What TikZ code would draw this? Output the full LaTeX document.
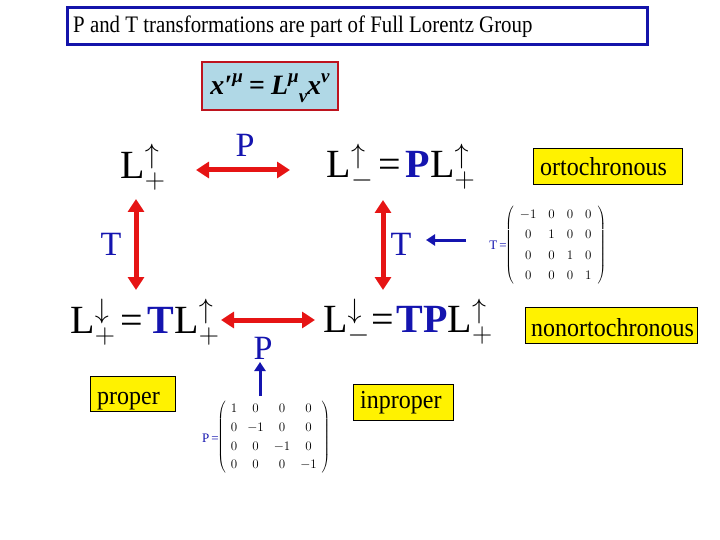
\RequirePackage{fix-cm}
\documentclass[tikz,border=0pt]{standalone}
\usepackage{graphicx}
\usepackage{fontspec}
\setmainfont{Liberation Serif}
\usetikzlibrary{arrows.meta}
\definecolor{tblue}{RGB}{20,20,175}
\definecolor{tred}{RGB}{230,20,20}
\definecolor{lightcyan}{RGB}{176,216,230}
\definecolor{darkred}{RGB}{190,20,30}
\definecolor{ttl}{RGB}{20,20,170}
\tikzset{
  redarrow/.style={draw=tred, line width=5pt, {Triangle[length=13pt,width=16pt]}-{Triangle[length=13pt,width=16pt]}},
  bluearrow/.style={draw=tblue, line width=3pt, -{Triangle[length=9pt,width=11pt]}},
  ybox/.style={draw=black, line width=0.8pt, fill=yellow, inner sep=0pt},
  ytext/.style={anchor=base west, inner sep=0pt, font=\fontsize{24}{28}\selectfont},
  big/.style={font=\fontsize{40}{46}\selectfont, inner sep=0pt},
  lbl/.style={text=tblue, font=\fontsize{34}{40}\selectfont, inner sep=0pt},
  mat/.style={inner sep=0pt, font=\fontsize{13}{15}\selectfont}
}
\newcommand\LL[2]{L$^{#1}_{#2}$}
\newcommand\BP{\textcolor{tblue}{\bfseries P}}
\newcommand\BT{\textcolor{tblue}{\bfseries T}}
\newcommand\EQ{\hspace{0.12em}=\hspace{0.12em}}
\newcommand\SUP[1]{\raisebox{0.42em}{\fontsize{19}{19}\selectfont #1}}
\newcommand\SUB[1]{\raisebox{-0.28em}{\fontsize{19}{19}\selectfont #1}}
\newcommand\YT[1]{\scalebox{1}[1.08]{#1}}
\begin{document}
\begin{tikzpicture}[x=1pt,y=-1pt]
\useasboundingbox (0,0) rectangle (720,540);
% title
\node[draw=ttl, line width=3pt, minimum width=580pt, minimum height=37pt, inner sep=0pt] (title) at (357,26.5) {};
\node[anchor=west, inner sep=0pt, font=\fontsize{21.5}{24}\selectfont] (ttext) at (73,27) {\scalebox{0.97}[1.1]{P and T transformations are part of Full Lorentz Group}};
% formula
\node[draw=darkred, line width=2pt, fill=lightcyan, minimum width=136pt, minimum height=48pt, inner sep=0pt] (form) at (270,86) {};
\node[inner sep=0pt, font=\fontsize{28}{32}\selectfont\bfseries\itshape] (ftext) at (270,88) {x′\SUP{μ}\hspace{0.22em}=\hspace{0.22em}L\SUP{μ}\SUB{ν}x\SUP{ν}};
% groups
\node[big] (Lpp) at (143,167) {\LL{\uparrow}{+}};
\node[big] (Lmp) at (401,167) {\LL{\uparrow}{-}\EQ\BP\LL{\uparrow}{+}};
\node[big] (Lpm) at (145,322) {\LL{\downarrow}{+}\EQ\BT\LL{\uparrow}{+}};
\node[big] (Lmm) at (408,322) {\LL{\downarrow}{-}\hspace{0.05em}=\hspace{0.05em}\BT\BP\LL{\uparrow}{+}};
% arrow ends
\coordinate (h1a) at (196,170); \coordinate (h1b) at (290,170);
\coordinate (h2a) at (221,320); \coordinate (h2b) at (315,320);
\coordinate (v1a) at (136,199); \coordinate (v1b) at (136,290);
\coordinate (v2a) at (383,200); \coordinate (v2b) at (383,290);
\draw[redarrow] (h1a) -- (h1b);
\draw[redarrow] (h2a) -- (h2b);
\draw[redarrow] (v1a) -- (v1b);
\draw[redarrow] (v2a) -- (v2b);
% labels
\node[lbl] (P1) at (245,145) {P};
\node[lbl] (P2) at (263,348) {P};
\node[lbl] (T1) at (111,244) {T};
\node[lbl] (T2) at (401,244) {T};
% yellow boxes
\node[ybox, minimum width=149pt, minimum height=36pt] (orto) at (607.5,166) {};
\node[ytext] (ortot) at (540,176) {\YT{ortochronous}};
\node[ybox, minimum width=172pt, minimum height=36pt] (nonorto) at (611,325) {};
\node[ytext] (nonortot) at (531,336) {\YT{nonortochronous}};
\node[ybox, minimum width=85pt, minimum height=35pt] (prop) at (132.5,394) {};
\node[ytext] (propt) at (97,404) {\YT{proper}};
\node[ybox, minimum width=100pt, minimum height=36pt] (inprop) at (403,402) {};
\node[ytext] (inpropt) at (360,408) {\YT{inproper}};
% matrices
\node[mat, anchor=east, text=tblue] (Teq) at (507,245) {T\,=};
\node[mat, anchor=west] (Tmat) at (505,245) {$\renewcommand\arraystretch{1.35}\setlength\arraycolsep{6pt}\left(\begin{array}{cccc} -1 & 0 & 0 & 0\\ 0 & 1 & 0 & 0\\ 0 & 0 & 1 & 0\\ 0 & 0 & 0 & 1\end{array}\right)$};
\node[mat, anchor=east, text=tblue] (Peq) at (219,438) {P\,=};
\node[mat, anchor=west] (Pmat) at (217,437) {$\renewcommand\arraystretch{1.25}\setlength\arraycolsep{5pt}\left(\begin{array}{cccc} 1 & 0 & 0 & 0\\ 0 & -1 & 0 & 0\\ 0 & 0 & -1 & 0\\ 0 & 0 & 0 & -1\end{array}\right)$};
% blue arrows
\coordinate (ba1) at (466,240); \coordinate (bb1) at (426,240);
\draw[bluearrow] (ba1) -- (bb1);
\coordinate (ba2) at (260,396); \coordinate (bb2) at (260,362);
\draw[bluearrow] (ba2) -- (bb2);
\end{tikzpicture}
\end{document}
